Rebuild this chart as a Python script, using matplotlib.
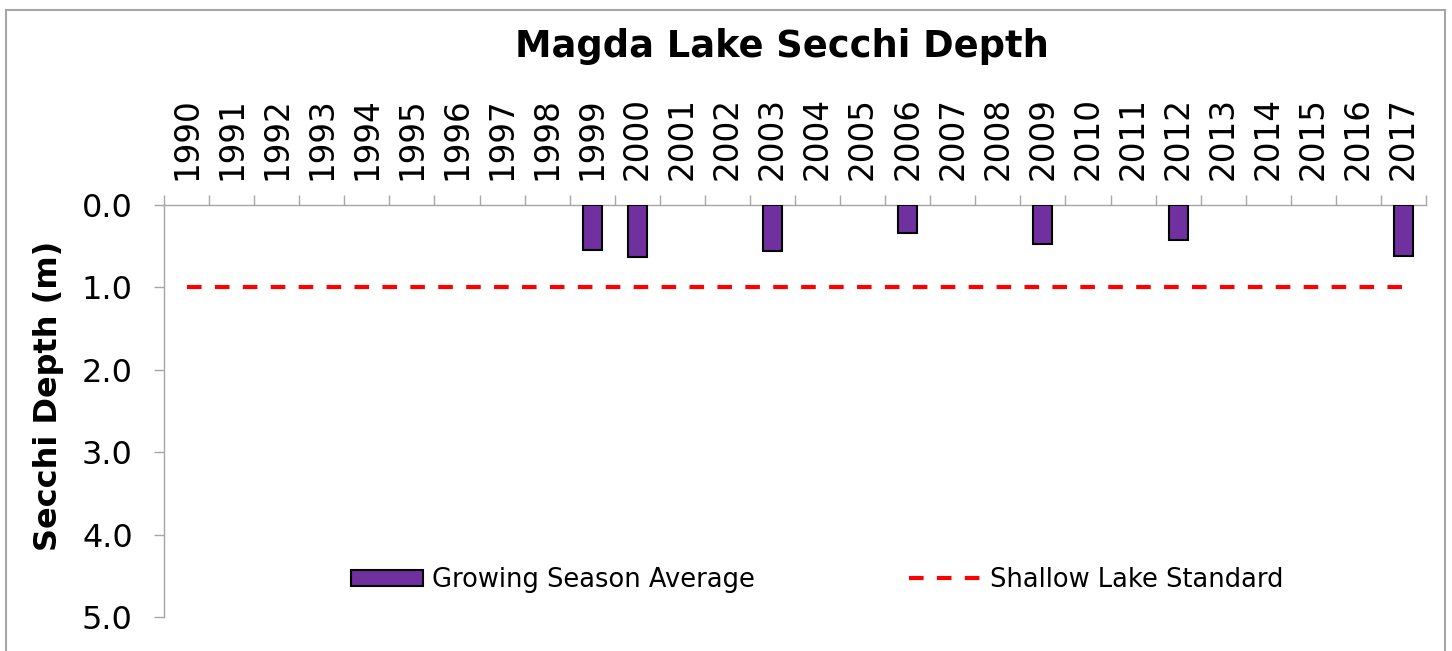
import numpy as np
import matplotlib.pyplot as plt
from matplotlib.patches import Rectangle

# growing season average secchi depth (m), nan = no data
years = list(range(1990, 2018))
secchi = [np.nan] * len(years)
measured = {1999: 0.55, 2000: 0.63, 2003: 0.56, 2006: 0.34,
            2009: 0.47, 2012: 0.43, 2017: 0.62}
for yr, v in measured.items():
    secchi[years.index(yr)] = v
standard = [1.0] * len(years)

W, H = 1452, 651
fig = plt.figure(figsize=(W / 100, H / 100), dpi=100)
ax = fig.add_axes([164 / W, 1 - 617 / H, (1426 - 164) / W, (617 - 205) / H])

x = np.arange(len(years))
bars = ax.bar(x, secchi, width=0.42, color='#7030A0', edgecolor='black',
              linewidth=1.5, label='Growing Season Average', zorder=3)
line, = ax.plot(x, standard, color='red', linewidth=3, dashes=(3.5, 3.2),
                label='Shallow Lake Standard', zorder=2)

ax.set_xlim(-0.5, len(years) - 0.5)
ax.set_ylim(5, 0)
ax.set_yticks(np.arange(0, 6, 1))
ax.set_yticklabels(['%.1f' % v for v in np.arange(0, 6, 1)], fontsize=23)

# year labels on top, ticks at category boundaries
ax.xaxis.tick_top()
ax.set_xticks(x)
ax.set_xticklabels([str(y) for y in years], rotation=90, fontsize=23.5)
ax.set_xticks(np.arange(-0.5, len(years)), minor=True)
ax.tick_params(axis='x', which='major', length=0, pad=18)
ax.tick_params(axis='x', which='minor', length=7.5, width=1, color='#a6a6a6',
               direction='out')
ax.tick_params(axis='y', length=7.5, width=1, color='#a6a6a6', pad=15)

for s in ['right', 'bottom']:
    ax.spines[s].set_visible(False)
for s in ['left', 'top']:
    ax.spines[s].set_color('#a6a6a6')
    ax.spines[s].set_linewidth(1)

ax.set_ylabel('Secchi Depth (m)', fontsize=23, fontweight='bold')
ax.yaxis.set_label_coords(-0.079, 0.537)

fig.text(782 / W, 1 - 57 / H, 'Magda Lake Secchi Depth', fontsize=26.5,
         fontweight='bold', ha='center', va='baseline')

fig.legend(handles=[bars, line], loc='center',
           bbox_to_anchor=(817 / W, 1 - 580 / H), ncol=2,
           frameon=False, fontsize=18.5, handlelength=2.8, handleheight=0.6,
           handletextpad=0.35, columnspacing=6)

fig.patches.append(Rectangle((6 / W, -0.05), (1445 - 6) / W, 1.05 - 10 / H,
                             transform=fig.transFigure, fill=False,
                             edgecolor='#a6a6a6', linewidth=1.5))

fig.savefig('out.png', dpi=100)
